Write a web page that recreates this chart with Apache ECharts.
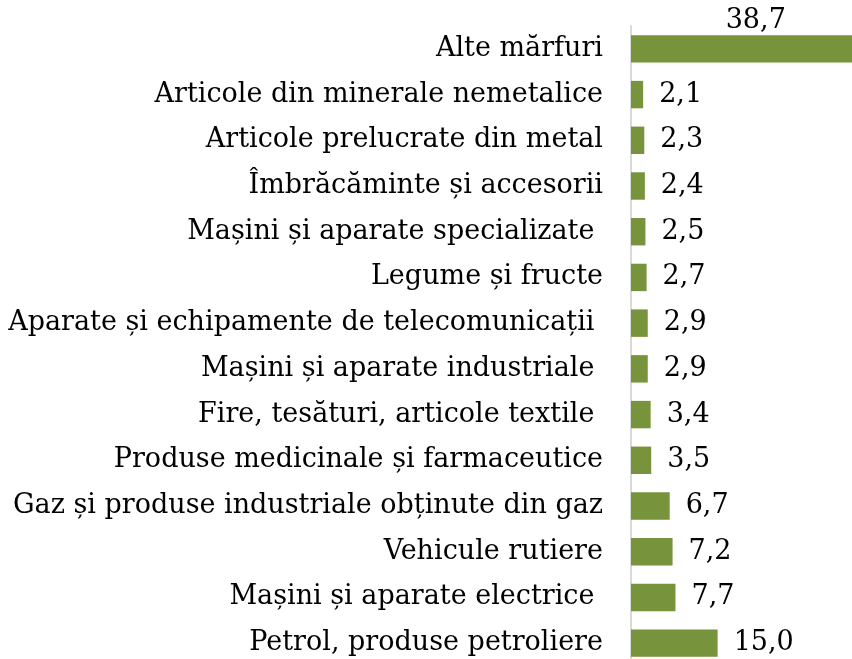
<!DOCTYPE html>
<html>
<head>
<meta charset="utf-8">
<script src="https://cdn.jsdelivr.net/npm/echarts@6/dist/echarts.min.js"></script>
<style>
  html, body { margin: 0; padding: 0; background: #fff; }
  #chart { width: 852px; height: 659px; }
</style>
</head>
<body>
<div id="chart"></div>
<script>
// categories, bottom to top (as on the y axis)
var categories = [
  "Petrol, produse petroliere",
  "Mașini și aparate electrice ",
  "Vehicule rutiere",
  "Gaz și produse industriale obținute din gaz",
  "Produse medicinale și farmaceutice",
  "Fire, tesături, articole textile ",
  "Mașini și aparate industriale ",
  "Aparate și echipamente de telecomunicații ",
  "Legume și fructe",
  "Mașini și aparate specializate ",
  "Îmbrăcăminte și accesorii",
  "Articole prelucrate din metal",
  "Articole din minerale nemetalice",
  "Alte mărfuri"
];
var values = [15.0, 7.7, 7.2, 6.7, 3.5, 3.4, 2.9, 2.9, 2.7, 2.5, 2.4, 2.3, 2.1, 38.7];

var font = "DejaVu Serif";
var chart = echarts.init(document.getElementById("chart"));

chart.setOption({
  animation: false,
  grid: { left: 631, top: 26, width: 231, height: 640, outerBoundsMode: "none" },
  xAxis: {
    type: "value",
    min: 0,
    max: 40,
    show: false
  },
  yAxis: {
    type: "category",
    data: categories,
    axisLine: { show: true, lineStyle: { color: "#d9d9d9", width: 2 } },
    axisTick: { show: false },
    axisLabel: { color: "#000", fontFamily: font, fontSize: 27, margin: 28 }
  },
  series: [{
    type: "bar",
    barCategoryGap: "40%",
    itemStyle: { color: "#77933c" },
    data: values.map(function (v, i) {
      var item = { value: v };
      if (i === values.length - 1) {
        item.label = { position: "top", distance: 1, offset: [13, 0] };
      }
      return item;
    }),
    label: {
      show: true,
      position: "right",
      distance: 16,
      color: "#000",
      fontFamily: font,
      fontSize: 27,
      formatter: function (p) { return p.value.toFixed(1).replace(".", ","); }
    }
  }]
});
</script>
</body>
</html>
